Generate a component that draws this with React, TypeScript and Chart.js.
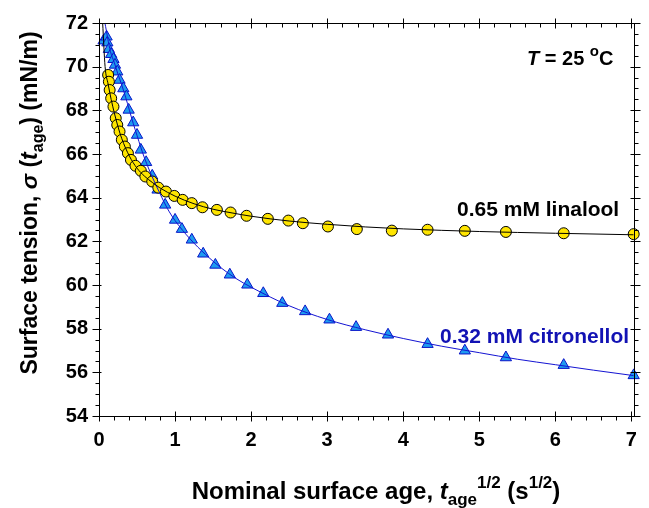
import React, { useEffect, useRef } from "react";
import { Chart, registerables } from "chart.js";

Chart.register(...registerables);

// ---- Data ----
const LINALOOL_X = [0.12, 0.13, 0.14, 0.16, 0.19, 0.22, 0.24, 0.27, 0.3, 0.34, 0.38, 0.42, 0.48, 0.55, 0.61, 0.7, 0.78, 0.88, 0.99, 1.1, 1.22, 1.36, 1.55, 1.73, 1.94, 2.22, 2.49, 2.68, 3.01, 3.39, 3.85, 4.32, 4.81, 5.35, 6.11, 7.03];
const LINALOOL_Y = [69.62, 69.31, 68.93, 68.55, 68.17, 67.64, 67.33, 67.03, 66.65, 66.34, 66.04, 65.73, 65.46, 65.23, 64.97, 64.74, 64.46, 64.28, 64.08, 63.9, 63.75, 63.56, 63.44, 63.32, 63.17, 63.03, 62.95, 62.83, 62.68, 62.56, 62.49, 62.53, 62.48, 62.43, 62.37, 62.33];

const CITRONELLOL_X = [0.06, 0.1, 0.11, 0.13, 0.16, 0.19, 0.21, 0.24, 0.27, 0.32, 0.36, 0.39, 0.45, 0.5, 0.55, 0.62, 0.7, 0.77, 0.87, 1.0, 1.09, 1.22, 1.37, 1.53, 1.72, 1.95, 2.16, 2.41, 2.71, 3.03, 3.38, 3.8, 4.32, 4.81, 5.35, 6.11, 7.03];
const CITRONELLOL_Y = [71.19, 71.37, 71.1, 70.8, 70.57, 70.34, 70.08, 69.77, 69.39, 69.0, 68.63, 68.02, 67.44, 66.87, 66.19, 65.62, 65.0, 64.36, 63.67, 62.98, 62.56, 62.07, 61.43, 60.92, 60.47, 60.01, 59.62, 59.17, 58.79, 58.41, 58.07, 57.72, 57.29, 56.99, 56.68, 56.33, 55.86];

const LINALOOL_FIT_X = [0.048, 0.08, 0.12, 0.16, 0.2, 0.25, 0.3, 0.4, 0.5, 0.6, 0.7, 0.8, 1.0, 1.25, 1.5, 1.75, 2.0, 2.5, 3.0, 3.5, 4.0, 5.0, 6.0, 7.03];
const LINALOOL_FIT_Y = [72.0, 70.0, 69.2, 68.5, 67.9, 67.25, 66.7, 65.9, 65.35, 64.98, 64.7, 64.45, 64.07, 63.72, 63.47, 63.3, 63.15, 62.93, 62.78, 62.66, 62.57, 62.45, 62.37, 62.3];

const CITRONELLOL_FIT_X = [0.078, 0.15, 0.2, 0.25, 0.3, 0.35, 0.4, 0.45, 0.5, 0.55, 0.6, 0.7, 0.8, 0.9, 1.0, 1.2, 1.4, 1.6, 1.8, 2.0, 2.5, 3.0, 3.5, 4.0, 4.5, 5.0, 5.5, 6.0, 6.5, 7.03];
const CITRONELLOL_FIT_Y = [72.0, 70.7, 70.2, 69.65, 69.15, 68.6, 68.0, 67.4, 66.85, 66.3, 65.8, 64.95, 64.2, 63.5, 62.95, 62.1, 61.4, 60.8, 60.3, 59.9, 59.05, 58.42, 57.95, 57.55, 57.2, 56.9, 56.6, 56.35, 56.1, 55.85];

// Axis ranges / ticks
const X_MIN = 0;
const X_MAX = 7.03;
const X_MAJOR = 1;
const X_MINOR = 0.2;
const Y_MIN = 54;
const Y_MAX = 72;
const Y_MAJOR = 2;
const Y_MINOR = 0.5;

const LABEL_LINALOOL = "0.65 mM linalool";
const LABEL_CITRONELLOL = "0.32 mM citronellol";

const FONT = "'Liberation Sans', Arial, Helvetica, sans-serif";

type Part = { text: string; size: number; italic?: boolean; dy?: number; color?: string };

function setFont(ctx: CanvasRenderingContext2D, p: Part) {
  ctx.font = `${p.italic ? "italic " : ""}bold ${p.size}px ${FONT}`;
}
function measureRich(ctx: CanvasRenderingContext2D, parts: Part[]) {
  let w = 0;
  for (const p of parts) {
    setFont(ctx, p);
    w += ctx.measureText(p.text).width;
  }
  return w;
}
function drawRich(ctx: CanvasRenderingContext2D, parts: Part[], x: number, y: number, color: string) {
  let cx = x;
  ctx.textAlign = "left";
  ctx.textBaseline = "alphabetic";
  for (const p of parts) {
    setFont(ctx, p);
    ctx.fillStyle = p.color || color;
    ctx.fillText(p.text, cx, y + (p.dy || 0));
    cx += ctx.measureText(p.text).width;
  }
}

const framePlugin = {
  id: "framePlugin",
  afterDatasetsDraw(chart: any) {
    const { ctx, chartArea } = chart;
    const { left, right, top, bottom } = chartArea;
    const xs = chart.scales.x;
    const ys = chart.scales.y;
    ctx.save();
    ctx.strokeStyle = "#000";
    ctx.lineWidth = 1;
    const L = Math.round(left) + 0.5;
    const R = Math.round(right) + 0.5;
    const T = Math.round(top) + 0.5;
    const B = Math.round(bottom) + 0.5;
    ctx.beginPath();
    ctx.rect(L, T, R - L, B - T);
    ctx.stroke();

    ctx.beginPath();
    const nx = Math.round((X_MAX - X_MIN) / X_MINOR + 1e-6);
    for (let i = 0; i <= nx; i++) {
      const v = X_MIN + i * X_MINOR;
      if (v > X_MAX + 1e-9) break;
      const major = Math.abs(v / X_MAJOR - Math.round(v / X_MAJOR)) < 1e-6;
      const px = Math.round(xs.getPixelForValue(v)) + 0.5;
      if (major) {
        ctx.moveTo(px, B - 5); ctx.lineTo(px, B + 5);
        ctx.moveTo(px, T - 5); ctx.lineTo(px, T + 5);
      } else {
        ctx.moveTo(px, B); ctx.lineTo(px, B + 4);
        ctx.moveTo(px, T); ctx.lineTo(px, T + 4);
      }
    }
    const ny = Math.round((Y_MAX - Y_MIN) / Y_MINOR + 1e-6);
    for (let i = 0; i <= ny; i++) {
      const v = Y_MIN + i * Y_MINOR;
      const major = Math.abs((v - Y_MIN) / Y_MAJOR - Math.round((v - Y_MIN) / Y_MAJOR)) < 1e-6;
      const py = Math.round(ys.getPixelForValue(v)) + 0.5;
      if (major) {
        ctx.moveTo(L - 7, py); ctx.lineTo(L + 2, py);
        ctx.moveTo(R - 4, py); ctx.lineTo(R + 6, py);
      } else {
        ctx.moveTo(L - 4, py); ctx.lineTo(L, py);
        ctx.moveTo(R, py); ctx.lineTo(R + 4, py);
      }
    }
    ctx.stroke();

    // Annotations
    drawRich(ctx, [
      { text: "T", size: 20, italic: true },
      { text: " = 25 ", size: 20 },
      { text: "o", size: 15, dy: -9 },
      { text: "C", size: 20 },
    ], 527, 65, "#000");
    drawRich(ctx, [{ text: LABEL_LINALOOL, size: 21 }], 457, 216, "#000");
    drawRich(ctx, [{ text: LABEL_CITRONELLOL, size: 21 }], 440, 343, "#1212B4");

    // X axis title
    const xt: Part[] = [
      { text: "Nominal surface age, ", size: 24 },
      { text: "t", size: 24, italic: true },
      { text: "age", size: 17, dy: 6 },
      { text: "1/2", size: 17, dy: -11 },
      { text: " (s", size: 24 },
      { text: "1/2", size: 17, dy: -11 },
      { text: ")", size: 24 },
    ];
    const xw = measureRich(ctx, xt);
    drawRich(ctx, xt, 376 - xw / 2, 499, "#000");

    // Y axis title
    const yt: Part[] = [
      { text: "Surface tension, ", size: 23 },
      { text: "\u03C3", size: 23, italic: true },
      { text: " (", size: 23 },
      { text: "t", size: 23, italic: true },
      { text: "age", size: 16, dy: 6 },
      { text: ") (mN/m)", size: 23 },
    ];
    const yw = measureRich(ctx, yt);
    ctx.translate(37, 203);
    ctx.rotate(-Math.PI / 2);
    drawRich(ctx, yt, -yw / 2, 0, "#000");
    ctx.restore();
  },
};

export default function App() {
  const ref = useRef<HTMLCanvasElement>(null);
  useEffect(() => {
    if (!ref.current) return;
    const pts = (xs: number[], ys: number[]) => xs.map((x, i) => ({ x, y: ys[i] }));
    const tickFont = { family: FONT, size: 20, weight: "bold" as const };
    const chart = new Chart(ref.current, {
      type: "scatter",
      data: {
        datasets: [
          {
            label: "linalool fit",
            data: pts(LINALOOL_FIT_X, LINALOOL_FIT_Y),
            showLine: true,
            borderColor: "#000",
            borderWidth: 1,
            pointRadius: 0,
            cubicInterpolationMode: "monotone",
            order: 0,
          } as any,
          {
            label: "citronellol fit",
            data: pts(CITRONELLOL_FIT_X, CITRONELLOL_FIT_Y),
            showLine: true,
            borderColor: "#1414D2",
            borderWidth: 1,
            pointRadius: 0,
            cubicInterpolationMode: "monotone",
            order: 0,
          } as any,
          {
            label: LABEL_LINALOOL,
            data: pts(LINALOOL_X, LINALOOL_Y),
            showLine: false,
            pointStyle: "circle",
            pointRadius: 5.5,
            backgroundColor: "#FFE500",
            borderColor: "#000",
            pointBorderWidth: 1,
            clip: false,
            order: 1,
          } as any,
          {
            label: LABEL_CITRONELLOL,
            data: pts(CITRONELLOL_X, CITRONELLOL_Y),
            showLine: false,
            pointStyle: "triangle",
            pointRadius: 6.5,
            backgroundColor: "#1E9BEF",
            borderColor: "#0A14C8",
            pointBorderWidth: 1,
            clip: false,
            order: 2,
          } as any,
        ],
      },
      options: {
        responsive: false,
        animation: false,
        events: [],
        layout: { padding: { top: 23, right: 9, left: 0, bottom: 0 } },
        plugins: { legend: { display: false }, tooltip: { enabled: false } },
        scales: {
          x: {
            type: "linear",
            min: X_MIN,
            max: X_MAX,
            ticks: {
              stepSize: X_MAJOR,
              includeBounds: false,
              font: tickFont,
              color: "#000",
              padding: 12,
              maxRotation: 0,
              autoSkip: false,
            },
            grid: { display: false, drawTicks: false },
            border: { display: false },
            afterFit: (s: any) => { s.height = 92; },
          },
          y: {
            type: "linear",
            min: Y_MIN,
            max: Y_MAX,
            ticks: {
              stepSize: Y_MAJOR,
              font: tickFont,
              color: "#000",
              padding: 11,
              autoSkip: false,
            },
            grid: { display: false, drawTicks: false },
            border: { display: false },
            afterFit: (s: any) => { s.width = 99; },
          },
        },
      },
      plugins: [framePlugin],
    });
    return () => chart.destroy();
  }, []);
  return (
    <div style={{ position: "absolute", left: 0, top: 0, width: 649, height: 508, background: "#fff" }}>
      <canvas ref={ref} width={649} height={508} style={{ display: "block", width: 649, height: 508 }} />
    </div>
  );
}
